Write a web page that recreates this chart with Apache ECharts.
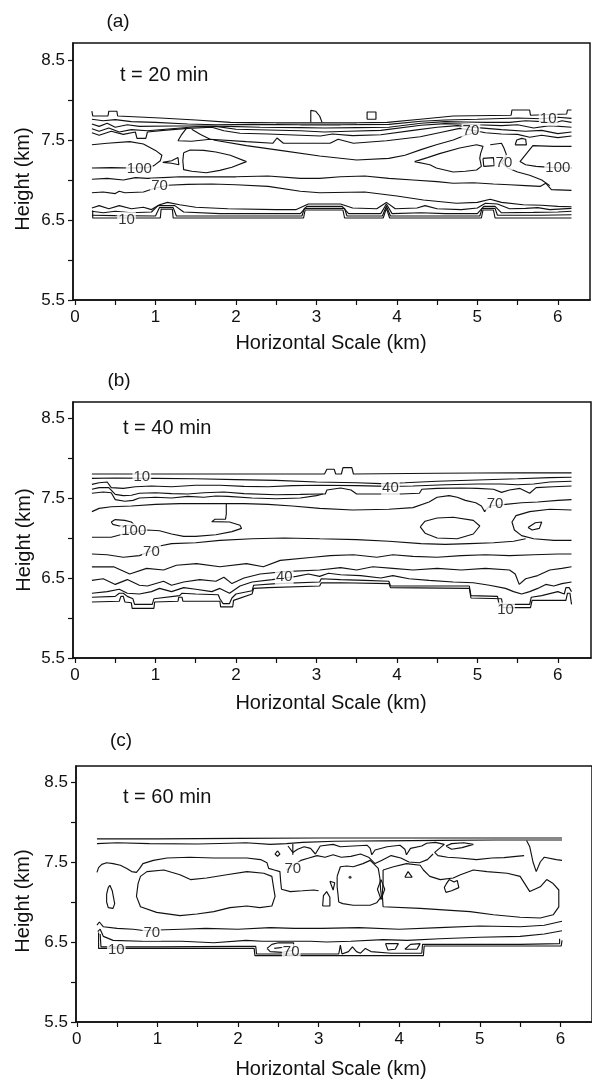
<!DOCTYPE html>
<html><head><meta charset="utf-8">
<script src="https://cdn.jsdelivr.net/npm/echarts@6/dist/echarts.min.js"></script>
<style>html,body{margin:0;padding:0;background:#fff}#c{width:592px;height:1082px}</style>
</head><body><div id="c"></div>
<script>
// ---------- axis ticks / text ----------
const X_TICKS = [0,0.5,1,1.5,2,2.5,3,3.5,4,4.5,5,5.5,6];
const X_LABELS = [0,1,2,3,4,5,6];
const Y_TICKS = [5.5,6,6.5,7,7.5,8,8.5];
const Y_LABELS = [5.5,6.5,7.5,8.5];
const PANEL_TAGS = ['(a)','(b)','(c)'];
const TIME_TAGS = ['t = 20 min','t = 40 min','t = 60 min'];
const X_TITLE = 'Horizontal Scale (km)';
const Y_TITLE = 'Height (km)';

// ---------- panel (a) contours: [km, km] ----------
const a_c10 = [[0.21,7.86],[0.22,7.80],[0.41,7.80],[0.42,7.86],[0.52,7.86],[0.53,7.80],[1.06,7.775],[1.5,7.75],[1.93,7.72],[2.5,7.715],[3.0,7.715],[3.5,7.715],[3.88,7.72],[4.29,7.76],[4.7,7.80],[5.42,7.81],[5.43,7.875],[5.65,7.875],[5.66,7.81],[6.11,7.825],[6.12,7.875],[6.17,7.875]];
const a_c20 = [[0.21,7.76],[0.35,7.74],[0.5,7.755],[0.7,7.73],[1.0,7.72],[1.4,7.70],[1.75,7.69],[2.2,7.695],[2.8,7.69],[3.3,7.69],[3.9,7.695],[4.3,7.735],[4.6,7.75],[5.0,7.76],[5.5,7.775],[5.8,7.765],[6.0,7.785],[6.17,7.77]];
const a_c30 = [[0.21,7.70],[0.3,7.67],[0.4,7.71],[0.5,7.66],[0.65,7.69],[0.8,7.67],[1.2,7.675],[1.6,7.675],[1.9,7.67],[2.3,7.66],[2.8,7.655],[3.1,7.65],[3.5,7.655],[3.9,7.66],[4.3,7.71],[4.6,7.73],[4.85,7.725],[5.1,7.72],[5.4,7.72],[5.6,7.74],[5.8,7.73],[5.95,7.71],[6.05,7.74],[6.17,7.72]];
const a_c40 = [[0.21,7.64],[0.3,7.61],[0.42,7.65],[0.55,7.60],[0.7,7.63],[0.9,7.615],[1.2,7.64],[1.5,7.665],[1.75,7.67],[2.0,7.635],[2.4,7.625],[2.8,7.615],[3.1,7.60],[3.4,7.61],[3.8,7.62],[4.3,7.685],[4.6,7.705],[4.8,7.70],[5.0,7.69],[5.3,7.68],[5.5,7.69],[5.7,7.65],[5.9,7.68],[6.17,7.66]];
const a_c50 = [[0.21,7.59],[0.3,7.56],[0.45,7.61],[0.6,7.57],[0.75,7.60],[0.77,7.52],[0.88,7.52],[0.9,7.60],[1.1,7.62],[1.4,7.645],[1.7,7.66],[1.85,7.615],[2.05,7.585],[2.4,7.575],[2.8,7.56],[3.05,7.55],[3.2,7.575],[3.45,7.555],[3.8,7.565],[4.2,7.62],[4.5,7.66],[4.75,7.68],[5.0,7.655],[5.3,7.63],[5.6,7.61],[5.8,7.62],[6.0,7.58],[6.17,7.60]];
const a_c60 = [[1.38,7.64],[1.32,7.56],[1.28,7.49],[1.45,7.485],[1.68,7.51],[2.13,7.48],[2.46,7.46],[2.51,7.525],[2.59,7.46],[3.17,7.46],[3.27,7.51],[3.46,7.46],[3.87,7.49],[4.29,7.54],[4.57,7.60],[4.78,7.645],[4.95,7.62],[5.1,7.59],[5.3,7.575],[5.5,7.57],[5.65,7.535],[5.8,7.56],[6.0,7.53],[6.17,7.55]];
const a_c60b = [[1.45,7.635],[1.56,7.57],[1.68,7.51]];
const a_c90 = [[1.72,7.50],[2.13,7.43],[2.55,7.37],[3.04,7.30],[3.5,7.25],[3.9,7.27],[4.1,7.31],[4.3,7.38],[4.49,7.44],[4.7,7.50],[4.85,7.56],[5.0,7.60]];
const a_c100L = [[0.21,7.44],[0.4,7.46],[0.68,7.48],[0.85,7.45],[1.0,7.37],[1.08,7.31],[1.06,7.24],[0.98,7.18],[0.9,7.155],[0.7,7.15],[0.45,7.155],[0.21,7.15]];
const a_core1 = [[1.35,7.34],[1.43,7.375],[1.6,7.37],[1.75,7.35],[1.93,7.31],[2.13,7.23],[1.95,7.16],[1.8,7.12],[1.63,7.09],[1.45,7.11],[1.35,7.13],[1.34,7.24],[1.35,7.34]];
const a_core2 = [[4.22,7.23],[4.38,7.28],[4.53,7.33],[4.78,7.40],[4.99,7.44],[5.07,7.42],[5.04,7.33],[5.03,7.27],[5.05,7.17],[4.99,7.125],[4.85,7.11],[4.70,7.10],[4.49,7.15],[4.41,7.19],[4.22,7.23]];
const a_isl1 = [[1.09,7.22],[1.2,7.24],[1.28,7.28],[1.29,7.19],[1.2,7.21],[1.09,7.22]];
const a_isl2 = [[5.07,7.27],[5.20,7.28],[5.21,7.18],[5.08,7.17],[5.07,7.27]];
const a_c100R = [[6.17,7.42],[5.95,7.42],[5.69,7.43],[5.53,7.23],[5.6,7.19],[5.73,7.17],[5.95,7.155],[6.17,7.15]];
const a_c70R = [[5.16,7.44],[5.30,7.46],[5.33,7.40],[5.36,7.32],[5.33,7.25],[5.30,7.22],[5.38,7.15],[5.5,7.10],[5.65,7.06],[5.8,7.0],[5.9,6.93]];
const a_cA = [[0.21,7.01],[0.4,7.02],[0.6,7.0],[0.75,7.03],[0.9,7.02],[1.1,7.03],[1.3,7.04],[1.6,7.04],[2.0,7.04],[2.4,7.05],[2.8,7.02],[3.04,7.02],[3.3,7.04],[3.6,7.05],[3.9,7.02],[4.2,7.0],[4.5,6.98],[4.7,6.96],[4.95,6.965],[5.2,6.95],[5.4,6.94],[5.6,6.93],[5.78,6.92],[5.85,6.96],[5.92,6.88],[6.17,6.87]];
const a_cB = [[0.21,6.84],[0.35,6.85],[0.5,6.83],[0.55,6.86],[0.62,6.84],[0.85,6.85],[1.0,6.90],[1.15,6.935],[1.4,6.945],[1.7,6.95],[2.0,6.94],[2.4,6.92],[2.8,6.86],[3.04,6.84],[3.6,6.85],[4.0,6.80],[4.33,6.75],[4.74,6.71],[5.0,6.72],[5.16,6.76],[5.3,6.72],[5.57,6.69],[5.8,6.685],[6.0,6.67],[6.17,6.665]];
const a_b1 = [[0.21,6.65],[0.3,6.68],[0.42,6.64],[0.55,6.68],[0.7,6.64],[0.85,6.66],[0.95,6.63],[1.05,6.69],[1.15,6.72],[1.3,6.69],[1.5,6.66],[1.9,6.64],[2.5,6.63],[2.75,6.63],[2.9,6.70],[3.3,6.70],[3.45,6.65],[3.75,6.64],[3.87,6.72],[3.98,6.64],[4.25,6.65],[4.35,6.68],[4.5,6.64],[4.8,6.63],[5.0,6.65],[5.1,6.71],[5.25,6.70],[5.4,6.64],[5.6,6.645],[5.75,6.655],[5.9,6.63],[6.17,6.645]];
const a_b2 = [[0.21,6.61],[0.35,6.59],[0.5,6.61],[0.7,6.59],[0.95,6.60],[1.03,6.68],[1.24,6.68],[1.35,6.60],[1.8,6.58],[2.5,6.58],[2.8,6.58],[2.88,6.67],[3.32,6.67],[3.4,6.58],[3.8,6.58],[3.87,6.70],[3.94,6.58],[4.3,6.59],[4.6,6.58],[5.0,6.58],[5.08,6.67],[5.22,6.67],[5.3,6.59],[5.7,6.595],[6.0,6.60],[6.17,6.61]];
const a_b3 = [[0.21,6.56],[0.5,6.555],[1.0,6.55],[1.05,6.655],[1.22,6.655],[1.26,6.55],[2.82,6.55],[2.85,6.645],[3.35,6.645],[3.38,6.55],[3.82,6.55],[3.87,6.675],[3.92,6.55],[5.03,6.55],[5.06,6.645],[5.22,6.645],[5.25,6.56],[5.8,6.56],[6.17,6.565]];
const a_b4 = [[0.22,6.62],[0.22,6.525],[1.06,6.525],[1.07,6.635],[1.21,6.635],[1.22,6.525],[2.84,6.525],[2.86,6.625],[3.33,6.625],[3.35,6.525],[3.83,6.525],[3.87,6.645],[3.91,6.525],[5.05,6.525],[5.07,6.625],[5.20,6.625],[5.22,6.525],[6.17,6.525]];
const a_s1 = [[2.93,7.72],[2.93,7.87],[2.99,7.86],[3.04,7.80],[3.07,7.72]];
const a_s2 = [[3.63,7.76],[3.63,7.85],[3.74,7.85],[3.74,7.76],[3.63,7.76]];
const a_s3 = [[5.47,7.44],[5.49,7.50],[5.55,7.52],[5.60,7.51],[5.61,7.44],[5.47,7.44]];
const a_labels = [[0.80,7.14,'100'],[1.05,6.925,'70'],[0.64,6.505,'10'],[4.92,7.61,'70'],[5.88,7.77,'10'],[5.33,7.22,'70'],[6.0,7.15,'100']];

// ---------- panel (b) ----------
const b_c10 = [[0.21,7.80],[1.0,7.80],[2.0,7.80],[3.1,7.80],[3.13,7.86],[3.22,7.86],[3.24,7.80],[3.31,7.80],[3.33,7.88],[3.44,7.88],[3.46,7.80],[4.5,7.81],[5.5,7.815],[6.17,7.815]];
const b_c20 = [[0.21,7.745],[0.5,7.75],[1.0,7.745],[1.5,7.74],[2.0,7.73],[2.5,7.72],[3.0,7.70],[3.5,7.69],[3.8,7.68],[4.1,7.69],[4.5,7.71],[5.0,7.725],[5.5,7.74],[5.9,7.755],[6.17,7.76]];
const b_c30 = [[0.21,7.67],[0.3,7.69],[0.4,7.70],[0.45,7.63],[0.6,7.62],[0.75,7.64],[0.95,7.65],[1.2,7.64],[1.5,7.66],[1.8,7.66],[2.1,7.645],[2.4,7.64],[2.7,7.655],[3.04,7.66],[3.5,7.655],[3.9,7.645],[4.2,7.65],[4.6,7.665],[5.0,7.675],[5.3,7.675],[5.5,7.665],[5.7,7.675],[5.9,7.70],[6.17,7.71]];
const b_c40 = [[0.21,7.61],[0.3,7.63],[0.42,7.63],[0.5,7.545],[0.6,7.53],[0.7,7.535],[0.8,7.56],[1.0,7.565],[1.2,7.555],[1.4,7.55],[1.6,7.565],[1.85,7.575],[2.1,7.555],[2.5,7.54],[2.8,7.545],[3.04,7.55],[3.11,7.55],[3.13,7.60],[3.3,7.625],[3.43,7.60],[3.5,7.55],[3.75,7.55],[4.05,7.55],[4.28,7.56],[4.31,7.61],[4.5,7.62],[4.8,7.625],[5.0,7.62],[5.2,7.61],[5.3,7.57],[5.4,7.60],[5.53,7.62],[5.65,7.56],[5.73,7.63],[5.94,7.64],[6.17,7.65]];
const b_c50 = [[0.21,7.56],[0.35,7.575],[0.45,7.565],[0.5,7.48],[0.62,7.46],[0.72,7.47],[0.8,7.50],[1.0,7.51],[1.2,7.50],[1.4,7.52],[1.6,7.51],[1.75,7.525],[1.9,7.52],[2.2,7.50],[2.5,7.49],[2.8,7.50],[3.0,7.53],[3.08,7.55]];
const b_c90 = [[0.21,7.33],[0.3,7.37],[0.45,7.39],[0.7,7.40],[1.0,7.42],[1.3,7.43],[1.6,7.43],[1.88,7.43],[2.1,7.43],[2.4,7.42],[2.7,7.40],[3.04,7.37],[3.45,7.35],[3.9,7.36],[4.2,7.38],[4.4,7.45],[4.5,7.51],[4.65,7.53],[4.75,7.51],[4.85,7.47],[4.98,7.44],[5.05,7.40],[5.09,7.33],[5.15,7.40],[5.35,7.42],[5.55,7.44],[5.75,7.45],[6.0,7.47],[6.17,7.48]];
const b_c100 = [[0.21,7.01],[0.45,7.01],[0.6,7.05],[0.75,7.08],[0.9,7.10],[1.05,7.09],[1.2,7.05],[1.35,7.02],[1.5,7.02],[1.75,7.04],[1.95,7.08],[2.07,7.12],[2.05,7.16],[1.92,7.20],[1.70,7.205],[1.68,7.22],[1.74,7.235],[1.87,7.235],[1.88,7.30],[1.88,7.43]];
const b_isl1 = [[0.45,7.20],[0.50,7.23],[0.62,7.22],[0.70,7.20],[0.74,7.16],[0.65,7.16],[0.55,7.15],[0.47,7.17],[0.45,7.20]];
const b_oval = [[4.29,7.14],[4.35,7.21],[4.5,7.25],[4.7,7.26],[4.95,7.22],[5.03,7.15],[4.95,7.05],[4.75,6.99],[4.5,7.00],[4.35,7.06],[4.29,7.14]];
const b_isl2 = [[5.63,7.13],[5.72,7.19],[5.80,7.20],[5.77,7.12],[5.68,7.10],[5.63,7.13]];
const b_c100R = [[6.17,7.35],[5.9,7.36],[5.65,7.33],[5.48,7.28],[5.43,7.20],[5.46,7.10],[5.55,7.03],[5.7,6.99],[5.95,6.97],[6.17,6.97]];
const b_c70 = [[0.21,6.80],[0.4,6.79],[0.6,6.76],[0.8,6.78],[0.95,6.84],[1.05,6.90],[1.2,6.93],[1.5,6.94],[1.8,6.97],[2.2,6.99],[2.6,7.0],[3.04,6.99],[3.5,6.98],[3.9,6.96],[4.3,6.93],[4.6,6.92],[4.9,6.93],[5.2,6.94],[5.45,6.96],[5.6,6.99]];
const b_lo60 = [[0.21,6.64],[0.48,6.64],[0.68,6.55],[0.89,6.62],[1.10,6.60],[1.26,6.66],[1.51,6.68],[1.8,6.64],[2.13,6.68],[2.34,6.64],[2.55,6.72],[2.96,6.76],[3.17,6.78],[3.46,6.79],[3.75,6.76],[3.95,6.79],[4.2,6.77],[4.5,6.76],[4.8,6.78],[5.1,6.79],[5.4,6.78],[5.7,6.79],[6.0,6.80],[6.17,6.80]];
const b_lo50 = [[0.21,6.47],[0.35,6.49],[0.5,6.42],[0.65,6.48],[0.8,6.41],[0.9,6.40],[1.1,6.46],[1.2,6.41],[1.35,6.45],[1.55,6.48],[1.75,6.46],[1.85,6.51],[1.95,6.43],[2.1,6.50],[2.3,6.55],[2.6,6.58],[3.04,6.60],[3.3,6.63],[3.5,6.60],[3.7,6.64],[3.95,6.62],[4.2,6.60],[4.5,6.62],[4.8,6.60],[5.1,6.62],[5.4,6.60],[5.47,6.55],[5.52,6.42],[5.6,6.49],[5.75,6.53],[5.9,6.60],[6.05,6.62],[6.17,6.64]];
const b_lo40 = [[0.21,6.31],[0.4,6.33],[0.55,6.36],[0.65,6.31],[0.8,6.30],[0.95,6.33],[1.05,6.37],[1.2,6.33],[1.35,6.38],[1.5,6.36],[1.7,6.33],[1.8,6.37],[1.92,6.31],[2.05,6.40],[2.2,6.45],[2.45,6.48],[2.75,6.52],[2.9,6.55],[3.04,6.52],[3.15,6.56],[3.3,6.54],[3.55,6.53],[3.8,6.50],[3.95,6.53],[4.15,6.49],[4.4,6.47],[4.7,6.45],[4.95,6.44],[5.15,6.41],[5.35,6.37],[5.45,6.33],[5.55,6.30],[5.65,6.33],[5.75,6.37],[5.85,6.42],[5.95,6.40],[6.05,6.43],[6.17,6.45]];
const b_lo20 = [[0.21,6.26],[0.5,6.27],[0.55,6.31],[0.6,6.31],[0.65,6.27],[0.72,6.24],[0.74,6.17],[0.96,6.17],[0.98,6.24],[1.3,6.28],[1.33,6.31],[1.5,6.30],[1.78,6.29],[1.80,6.24],[1.84,6.18],[1.92,6.18],[1.95,6.25],[2.0,6.30],[2.2,6.34],[2.22,6.41],[2.5,6.43],[3.04,6.45],[3.06,6.49],[3.3,6.48],[3.6,6.47],[3.9,6.46],[3.92,6.40],[4.5,6.40],[4.9,6.40],[4.92,6.28],[5.25,6.27],[5.27,6.17],[5.65,6.17],[5.67,6.26],[5.8,6.28],[6.0,6.33],[6.08,6.30],[6.1,6.38],[6.14,6.38],[6.17,6.33]];
const b_lo10 = [[0.21,6.20],[0.55,6.21],[0.57,6.27],[0.60,6.27],[0.62,6.20],[0.70,6.19],[0.71,6.12],[0.98,6.12],[0.99,6.20],[1.28,6.21],[1.29,6.26],[1.33,6.26],[1.34,6.21],[1.80,6.21],[1.81,6.14],[1.96,6.14],[1.97,6.22],[2.2,6.30],[2.22,6.37],[2.4,6.38],[3.04,6.40],[3.06,6.44],[3.3,6.44],[3.9,6.43],[3.92,6.38],[4.9,6.37],[4.92,6.25],[5.3,6.24],[5.32,6.13],[5.66,6.13],[5.68,6.22],[6.1,6.22],[6.12,6.31],[6.15,6.31],[6.17,6.17]];
const b_labels = [[0.83,7.77,'10'],[0.73,7.09,'100'],[0.95,6.83,'70'],[3.92,7.63,'40'],[5.22,7.43,'70'],[2.6,6.51,'40'],[5.35,6.10,'10']];

// ---------- panel (c) ----------
const c_c10 = [[0.25,7.79],[1.0,7.79],[2.0,7.795],[3.0,7.80],[4.0,7.80],[5.0,7.80],[6.02,7.80]];
const c_c20 = [[0.25,7.73],[0.5,7.74],[0.9,7.73],[1.5,7.725],[1.9,7.735],[2.1,7.74],[2.4,7.72],[2.6,7.73],[2.8,7.745],[3.2,7.76],[3.8,7.765],[4.5,7.77],[5.2,7.775],[6.02,7.775]];
const c_c3 = [[0.25,7.37],[0.27,7.43],[0.31,7.47],[0.37,7.49],[0.45,7.48],[0.54,7.46],[0.62,7.42],[0.68,7.38],[0.74,7.37],[0.78,7.42],[0.82,7.48],[0.95,7.52],[1.12,7.55],[1.4,7.56],[1.7,7.55],[2.11,7.55],[2.28,7.53],[2.36,7.49],[2.38,7.42],[2.45,7.40],[2.52,7.38],[2.53,7.25],[2.54,7.16],[2.65,7.13],[2.8,7.14],[2.94,7.15],[3.0,7.14]];
const c_hang = [[2.68,7.725],[2.68,7.59]];
const c_dia1 = [[2.49,7.64],[2.52,7.60],[2.49,7.57],[2.46,7.60],[2.49,7.64]];
const c_w1 = [[2.62,7.70],[2.68,7.62],[2.74,7.66],[2.82,7.69],[2.9,7.67],[2.96,7.60],[3.02,7.70],[3.18,7.72],[3.27,7.69],[3.43,7.70],[3.60,7.71],[3.64,7.67],[3.66,7.59],[3.70,7.65],[3.85,7.69],[4.01,7.71],[4.07,7.66],[4.09,7.59],[4.14,7.67],[4.28,7.70]];
const c_s1 = [[4.28,7.70],[4.34,7.735],[4.45,7.745],[4.56,7.72],[4.50,7.67],[4.44,7.62],[4.48,7.58],[4.60,7.56],[4.75,7.55],[4.96,7.53],[5.15,7.55],[5.30,7.555],[5.45,7.57],[5.55,7.58]];
const c_s2 = [[5.58,7.77],[5.62,7.69],[5.66,7.50],[5.70,7.38],[5.75,7.50],[5.80,7.56],[5.95,7.53],[6.02,7.52]];
const c_s3 = [[4.58,7.70],[4.65,7.66],[4.78,7.68],[4.92,7.72],[4.80,7.74],[4.65,7.73],[4.58,7.70]];
const c_w2 = [[2.60,7.40],[2.70,7.47],[2.78,7.52],[2.88,7.55],[2.98,7.58],[3.08,7.56],[3.18,7.59],[3.28,7.56],[3.40,7.57],[3.52,7.60],[3.62,7.56],[3.70,7.48],[3.78,7.52],[3.90,7.58],[4.02,7.55],[4.12,7.50],[4.25,7.49],[4.35,7.53],[4.42,7.60]];
const c_loopL = [[0.37,7.10],[0.39,7.18],[0.41,7.21],[0.44,7.14],[0.47,6.98],[0.45,6.92],[0.39,6.93],[0.37,7.0],[0.37,7.10]];
const c_loopA = [[0.76,7.23],[0.74,7.07],[0.79,6.94],[0.99,6.87],[1.28,6.83],[1.49,6.85],[1.70,6.88],[1.90,6.93],[2.11,6.95],[2.27,6.93],[2.42,6.95],[2.46,7.07],[2.44,7.19],[2.42,7.32],[2.32,7.36],[2.11,7.38],[1.86,7.34],[1.61,7.30],[1.41,7.28],[1.28,7.34],[1.08,7.40],[0.87,7.38],[0.79,7.32],[0.76,7.23]];
const c_loopS = [[3.05,6.95],[3.06,7.08],[3.10,7.13],[3.14,7.06],[3.14,6.95],[3.05,6.95]];
const c_tri1 = [[3.14,7.26],[3.20,7.24],[3.18,7.15],[3.14,7.26]];
const c_loopB = [[3.23,7.32],[3.27,7.44],[3.35,7.45],[3.43,7.44],[3.55,7.48],[3.64,7.52],[3.70,7.46],[3.74,7.42],[3.76,7.30],[3.77,7.15],[3.78,7.07],[3.72,6.99],[3.64,6.96],[3.43,6.96],[3.30,6.98],[3.25,7.00],[3.24,7.10],[3.23,7.19],[3.23,7.32]];
const c_dia2 = [[3.775,7.28],[3.82,7.16],[3.775,7.03],[3.73,7.16],[3.775,7.28]];
const c_loopC = [[3.80,7.40],[3.93,7.44],[4.09,7.48],[4.26,7.46],[4.30,7.40],[4.38,7.32],[4.51,7.28],[4.67,7.30],[4.76,7.34],[4.92,7.40],[5.09,7.38],[5.34,7.36],[5.50,7.32],[5.62,7.13],[5.75,7.19],[5.83,7.28],[5.91,7.23],[5.98,7.15],[5.98,6.94],[5.91,6.84],[5.75,6.80],[5.50,6.81],[5.17,6.84],[4.88,6.88],[4.26,6.92],[3.80,6.94],[3.79,7.10],[3.80,7.25],[3.80,7.40]];
const c_loopD = [[4.58,7.22],[4.62,7.28],[4.68,7.25],[4.72,7.27],[4.74,7.18],[4.65,7.14],[4.58,7.12],[4.56,7.18],[4.58,7.22]];
const c_tri2 = [[4.07,7.31],[4.11,7.38],[4.16,7.31],[4.07,7.31]];
const c_c70 = [[0.25,6.71],[0.28,6.75],[0.33,6.69],[0.5,6.67],[0.7,6.66],[0.85,6.64],[1.0,6.65],[1.3,6.66],[1.6,6.67],[2.0,6.66],[2.4,6.68],[2.7,6.67],[3.04,6.67],[3.5,6.68],[4.0,6.66],[4.5,6.68],[5.0,6.70],[5.5,6.69],[5.8,6.71],[6.02,6.76]];
const c_low = [[0.26,6.63],[0.29,6.66],[0.33,6.57],[0.45,6.52],[0.8,6.51],[1.3,6.51],[1.7,6.49],[2.1,6.52],[2.3,6.51],[2.6,6.51],[2.9,6.51],[3.1,6.50],[3.4,6.51],[3.8,6.53],[4.1,6.52],[4.5,6.54],[5.0,6.56],[5.5,6.57],[5.8,6.60],[6.02,6.64]];
const c_b10 = [[0.27,6.62],[0.27,6.42],[1.0,6.42],[1.5,6.42],[2.0,6.42],[2.20,6.42],[2.21,6.33],[3.0,6.33],[3.5,6.33],[4.0,6.33],[4.30,6.33],[4.31,6.45],[5.0,6.45],[5.5,6.45],[6.01,6.45],[6.02,6.52]];
const c_b20 = [[0.29,6.60],[0.30,6.44],[1.0,6.44],[2.0,6.445],[2.22,6.445],[2.23,6.35],[3.0,6.35],[3.25,6.35],[3.27,6.46],[3.29,6.35],[3.37,6.38],[3.42,6.44],[3.47,6.38],[3.52,6.36],[3.58,6.42],[3.65,6.38],[3.9,6.36],[4.28,6.36],[4.29,6.47],[5.0,6.47],[5.5,6.47],[5.99,6.48],[5.99,6.54]];
const c_bl1 = [[2.36,6.42],[2.42,6.47],[2.50,6.49],[2.69,6.49],[2.69,6.40],[2.55,6.37],[2.40,6.38],[2.36,6.42]];
const c_bl2 = [[2.45,6.42],[2.62,6.44]];
const c_bl3 = [[3.83,6.48],[3.99,6.48],[3.95,6.41],[3.86,6.40],[3.83,6.48]];
const c_bl4 = [[4.07,6.41],[4.14,6.47],[4.26,6.48],[4.22,6.41],[4.07,6.41]];
const c_dots = [[3.39,7.31]];
const c_labels = [[2.68,7.41,'70'],[0.93,6.61,'70'],[0.49,6.40,'10'],[2.66,6.38,'70']];

const PANEL_LINES = [
  [a_c10,a_c20,a_c30,a_c40,a_c50,a_c60,a_c60b,a_c90,a_c100L,a_core1,a_core2,a_isl1,a_isl2,a_c100R,a_c70R,a_cA,a_cB,a_b1,a_b2,a_b3,a_b4,a_s1,a_s2,a_s3],
  [b_c10,b_c20,b_c30,b_c40,b_c50,b_c90,b_c100,b_isl1,b_oval,b_isl2,b_c100R,b_c70,b_lo60,b_lo50,b_lo40,b_lo20,b_lo10],
  [c_c10,c_c20,c_c3,c_hang,c_dia1,c_w1,c_s1,c_s2,c_s3,c_w2,c_loopL,c_loopA,c_loopS,c_tri1,c_loopB,c_dia2,c_loopC,c_loopD,c_tri2,c_c70,c_low,c_b10,c_b20,c_bl1,c_bl2,c_bl3,c_bl4]
];
const PANEL_LABELS = [a_labels, b_labels, c_labels];
const PANEL_DOTS = [[], [], c_dots];

// ---------- layout (pixels) ----------
const LAYOUT = [
  {grid:{left:73,top:43,width:517,height:257}, x:[-0.025,6.4], y:[5.5,8.7125], tag:[118,22], time:[120,75], yt:[23,179], xt:[331,343]},
  {grid:{left:73,top:402,width:518,height:256}, x:[-0.025,6.412], y:[5.5,8.7], tag:[119,381], time:[123,428], yt:[24,540], xt:[331,703]},
  {grid:{left:76,top:766,width:516,height:256}, x:[-0.01,6.392], y:[5.5,8.7], tag:[121,741], time:[123,797], yt:[23,901], xt:[331,1069]}
];
const FONT = '"Liberation Sans", Arial, Helvetica, sans-serif';
const INK = '#111';

const grid = [], xAxis = [], yAxis = [], series = [], graphic = [];
LAYOUT.forEach((L, i) => {
  grid.push(Object.assign({show:true, borderColor:INK, borderWidth:1.5, backgroundColor:'#fff'}, L.grid));
  xAxis.push({type:'value', gridIndex:i, min:L.x[0], max:L.x[1],
    axisLine:{show:true, onZero:false, lineStyle:{color:INK, width:1.5}},
    axisTick:{show:true, inside:false, length:5, customValues:X_TICKS, lineStyle:{color:INK, width:1.2}},
    axisLabel:{show:true, customValues:X_LABELS, margin:9, fontSize:17, color:INK, fontFamily:FONT, formatter:v=>String(v)},
    splitLine:{show:false}});
  yAxis.push({type:'value', gridIndex:i, min:L.y[0], max:L.y[1],
    axisLine:{show:true, onZero:false, lineStyle:{color:INK, width:1.5}},
    axisTick:{show:true, inside:false, length:5, customValues:Y_TICKS, lineStyle:{color:INK, width:1.2}},
    axisLabel:{show:true, customValues:Y_LABELS, margin:8, fontSize:17, color:INK, fontFamily:FONT, formatter:v=>v.toFixed(1)},
    splitLine:{show:false}});
  PANEL_LINES[i].forEach(d => series.push({type:'line', xAxisIndex:i, yAxisIndex:i, data:d, symbol:'none', showSymbol:false,
    silent:true, animation:false, z:2, lineStyle:{color:INK, width:1.15}}));
  series.push({type:'scatter', xAxisIndex:i, yAxisIndex:i, silent:true, animation:false, z:5,
    symbol:'rect', symbolSize:1, itemStyle:{color:'rgba(0,0,0,0)'},
    data:PANEL_LABELS[i].map(l => ({value:[l[0], l[1]], name:l[2]})),
    label:{show:true, position:'inside', formatter:'{b}', fontSize:15, color:'#000', fontFamily:FONT, backgroundColor:'#fff', padding:[0,1,0,1]}});
  if (PANEL_DOTS[i].length) series.push({type:'scatter', xAxisIndex:i, yAxisIndex:i, silent:true, animation:false, z:4,
    symbol:'circle', symbolSize:3, itemStyle:{color:INK}, data:PANEL_DOTS[i]});
  graphic.push({type:'text', x:L.tag[0], y:L.tag[1], style:{text:PANEL_TAGS[i], font:'19px '+FONT, fill:INK, align:'center', verticalAlign:'middle'}});
  graphic.push({type:'text', x:L.time[0], y:L.time[1], style:{text:TIME_TAGS[i], font:'20px '+FONT, fill:INK, align:'left', verticalAlign:'middle'}});
  graphic.push({type:'text', x:L.yt[0], y:L.yt[1], rotation:Math.PI/2, style:{text:Y_TITLE, font:'20px '+FONT, fill:INK, align:'center', verticalAlign:'middle'}});
  graphic.push({type:'text', x:L.xt[0], y:L.xt[1], style:{text:X_TITLE, font:'20px '+FONT, fill:INK, align:'center', verticalAlign:'middle'}});
});

const chart = echarts.init(document.getElementById('c'), null, {renderer:'canvas', width:592, height:1082});
chart.setOption({backgroundColor:'#fff', animation:false, grid, xAxis, yAxis, series, graphic});
</script>
</body></html>
